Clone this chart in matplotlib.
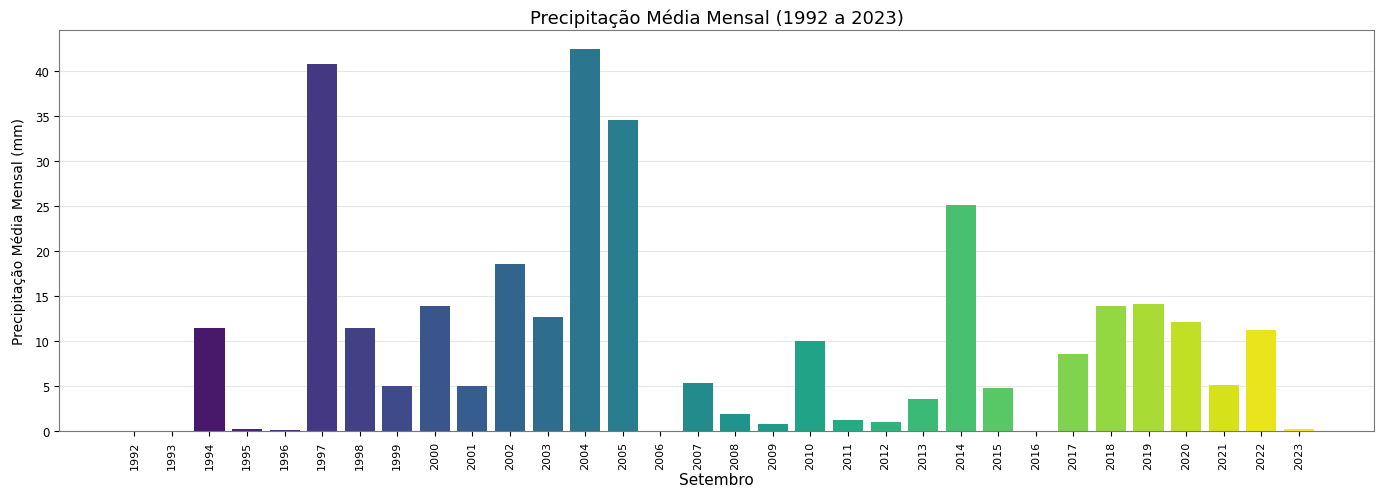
import numpy as np
import matplotlib
matplotlib.use("Agg")
import matplotlib.pyplot as plt

anos = list(range(1992, 2024))
precip = [0.0, 0.0, 11.4, 0.2, 0.1, 40.7, 11.4, 5.0, 13.9, 5.0,
          18.5, 12.6, 42.4, 34.5, 0.0, 5.3, 1.9, 0.8, 10.0, 1.2,
          1.0, 3.5, 25.1, 4.8, 0.0, 8.5, 13.9, 14.1, 12.1, 5.1,
          11.2, 0.15]

cores = plt.cm.viridis(np.linspace(0, 1, len(anos)))

fig, ax = plt.subplots(figsize=(13.78, 4.89), dpi=100)

x = np.arange(len(anos))
ax.bar(x, precip, width=0.8, color=cores, zorder=2)

ax.set_xticks(x)
ax.set_xticklabels([str(a) for a in anos], rotation=90, fontsize=8)
ax.tick_params(axis="y", labelsize=8.5)
ax.set_xlim(-2, len(anos) + 1)

ax.grid(axis="y", color="#e6e6e6", linewidth=0.8, zorder=0)
for s in ax.spines.values():
    s.set_color("#777777")

ax.set_title("Precipitação Média Mensal (1992 a 2023)", fontsize=13, pad=5)
ax.set_xlabel("Setembro", fontsize=11, labelpad=2)
ax.set_ylabel("Precipitação Média Mensal (mm)", fontsize=10, labelpad=6)

plt.subplots_adjust(left=0.043, right=0.997, top=0.937, bottom=0.117)
plt.savefig("out.png", dpi=100)
